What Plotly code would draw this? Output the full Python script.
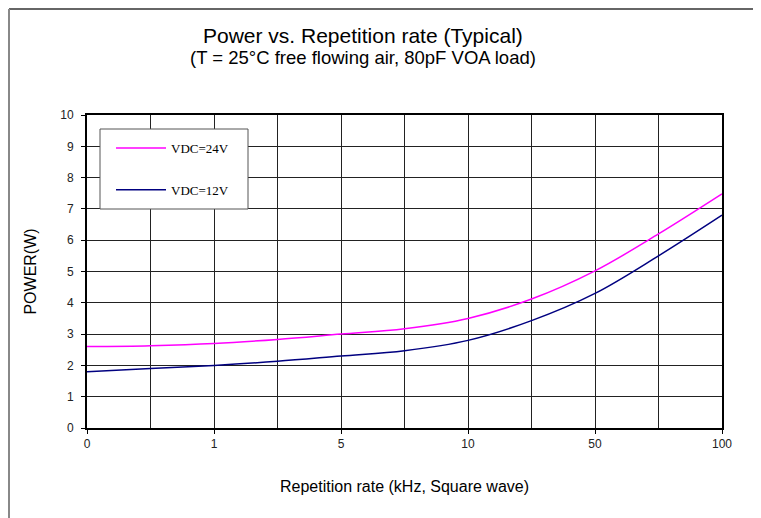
import plotly.graph_objects as go

# Data (x positions are equally spaced category steps; labels below)
x_steps = [0, 0.5, 1, 1.5, 2, 2.5, 3, 3.5, 4, 4.5, 5]
tick_pos = [0, 1, 2, 3, 4, 5]
tick_labels = ["0", "1", "5", "10", "50", "100"]
power_24v = [2.6, 2.63, 2.7, 2.83, 3.0, 3.17, 3.5, 4.12, 5.02, 6.2, 7.48]
power_12v = [1.8, 1.9, 2.0, 2.13, 2.3, 2.47, 2.8, 3.43, 4.3, 5.5, 6.8]

# page offset of the figure inside the browser (body margin)
OFF = 8
W, H = 761, 518           # browser window
FW, FH = W - OFF, H - OFF  # figure size
PL, PR, PT, PB = 87, 722, 115, 428  # plot area in page pixels
L, T = PL - OFF, PT - OFF
R, B = FW - (PR - OFF), FH - (PB - OFF)
pw, ph = PR - PL, PB - PT

def px2x(p):
    return (p - PL) / pw

def py2y(p):
    return (PB - p) / ph

fig = go.Figure()
fig.add_trace(go.Scatter(x=x_steps, y=power_24v, mode="lines", name="VDC=24V",
                         line=dict(color="#FF00FF", width=1.5, shape="spline"),
                         legendgroup="a"))
fig.add_trace(go.Scatter(x=x_steps, y=power_12v, mode="lines", name="VDC=12V",
                         line=dict(color="#000080", width=1.5, shape="spline"),
                         legendgroup="b"))

fig.update_layout(
    width=FW, height=FH,
    margin=dict(l=L, r=R, t=T, b=B),
    paper_bgcolor="white", plot_bgcolor="white",
    font=dict(family="Liberation Sans, Arial", color="#000"),
    showlegend=True,
    legend=dict(x=px2x(111), y=py2y(133), xanchor="left", yanchor="top",
                bgcolor="rgba(0,0,0,0)", borderwidth=0,
                font=dict(family="Liberation Serif, Times New Roman", size=13),
                tracegroupgap=22, itemwidth=50),
    xaxis=dict(range=[0, 5], tickvals=tick_pos, ticktext=tick_labels,
               showgrid=True, gridcolor="#222", gridwidth=1,
               minor=dict(dtick=0.5, showgrid=True, gridcolor="#222", gridwidth=1, ticks=""),
               showline=True, linecolor="#000", linewidth=2, mirror=True,
               ticks="outside", ticklen=4, tickcolor="#000",
               tickfont=dict(size=12, color="#222"), zeroline=False,
               title=dict(text="Repetition rate (kHz, Square wave)", font=dict(size=16), standoff=30)),
    yaxis=dict(range=[0, 10], dtick=1,
               showgrid=True, gridcolor="#222", gridwidth=1,
               showline=True, linecolor="#000", linewidth=2, mirror=True,
               ticks="outside", ticklen=4, tickcolor="#000", ticklabelstandoff=5,
               tickfont=dict(size=12, color="#222"), zeroline=False,
               title=dict(text="POWER(W)", font=dict(size=16), standoff=20)),
    annotations=[
        dict(text="Power vs. Repetition rate (Typical)", x=px2x(363), y=py2y(35),
             xref="paper", yref="paper", showarrow=False, font=dict(size=21),
             xanchor="center", yanchor="middle"),
        dict(text="(T = 25°C free flowing air, 80pF VOA load)", x=px2x(363), y=py2y(58),
             xref="paper", yref="paper", showarrow=False, font=dict(size=18.5),
             xanchor="center", yanchor="middle"),
    ],
    shapes=[
        dict(type="rect", xref="paper", yref="paper", x0=px2x(100), x1=px2x(248),
             y0=py2y(129), y1=py2y(209), fillcolor="white", layer="above",
             line=dict(color="#555", width=1)),
        dict(type="line", xref="paper", yref="paper", x0=px2x(9), x1=px2x(W), y0=py2y(9), y1=py2y(9),
             line=dict(color="#666", width=2)),
        dict(type="line", xref="paper", yref="paper", x0=px2x(9), x1=px2x(9), y0=py2y(9), y1=py2y(H),
             line=dict(color="#888", width=2)),
    ],
)

fig.write_html("out.html")
